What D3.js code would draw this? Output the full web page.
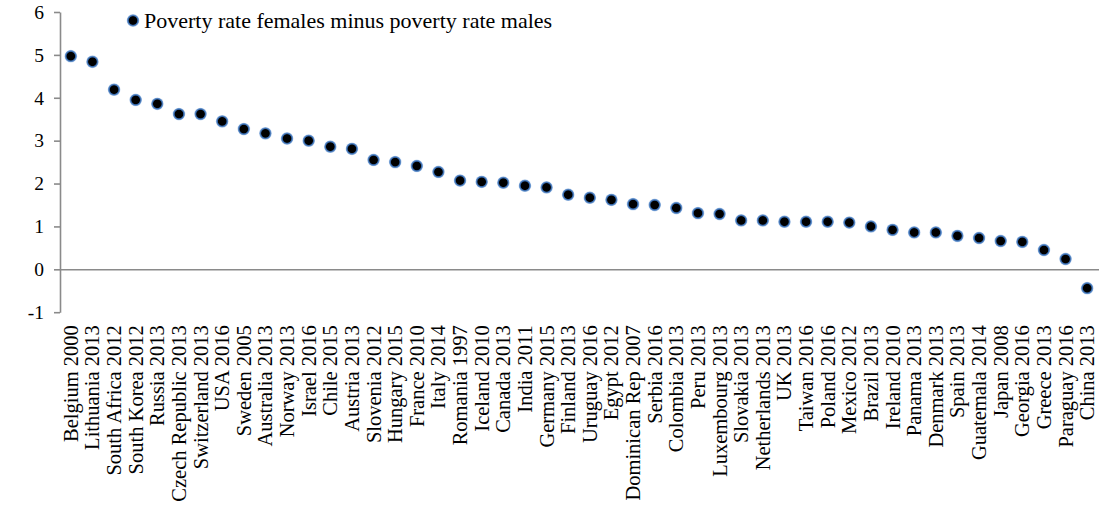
<!DOCTYPE html>
<html>
<head>
<meta charset="utf-8">
<script src="https://cdn.jsdelivr.net/npm/d3@7"></script>
<style>
  html, body { margin: 0; padding: 0; background: #fff; }
  svg { display: block; }
  text { font-family: "Liberation Serif", "Times New Roman", serif; fill: #000; }
</style>
</head>
<body>
<svg id="chart" width="1099" height="507"></svg>
<script>
const categories = [
  "Belgium 2000", "Lithuania 2013", "South Africa 2012", "South Korea 2012", "Russia 2013",
  "Czech Republic 2013", "Switzerland 2013", "USA 2016", "Sweden 2005", "Australia 2013",
  "Norway 2013", "Israel 2016", "Chile 2015", "Austria 2013", "Slovenia 2012",
  "Hungary 2015", "France 2010", "Italy 2014", "Romania 1997", "Iceland 2010",
  "Canada 2013", "India 2011", "Germany 2015", "Finland 2013", "Uruguay 2016",
  "Egypt 2012", "Dominican Rep 2007", "Serbia 2016", "Colombia 2013", "Peru 2013",
  "Luxembourg 2013", "Slovakia 2013", "Netherlands 2013", "UK 2013", "Taiwan 2016",
  "Poland 2016", "Mexico 2012", "Brazil 2013", "Ireland 2010", "Panama 2013",
  "Denmark 2013", "Spain 2013", "Guatemala 2014", "Japan 2008", "Georgia 2016",
  "Greece 2013", "Paraguay 2016", "China 2013"
];
const values = [
  4.97, 4.84, 4.19, 3.95, 3.86,
  3.62, 3.62, 3.45, 3.27, 3.17,
  3.05, 3.00, 2.86, 2.81, 2.55,
  2.50, 2.41, 2.27, 2.07, 2.04,
  2.02, 1.95, 1.91, 1.74, 1.67,
  1.62, 1.52, 1.50, 1.43, 1.31,
  1.29, 1.14, 1.14, 1.11, 1.11,
  1.11, 1.09, 1.00, 0.92, 0.86,
  0.86, 0.78, 0.73, 0.66, 0.64,
  0.45, 0.24, -0.44
];
const yTicks = [-1, 0, 1, 2, 3, 4, 5, 6];
const seriesName = "Poverty rate females minus poverty rate males";

const data = categories.map((c, i) => ({ c, v: values[i] }));

const svg = d3.select("#chart");
const axisColor = "#8a8a8a";
const serif = "'Liberation Serif', 'Times New Roman', serif";

const x = d3.scaleBand().domain(categories).range([60, 1098]);
const y = d3.scaleLinear().domain([-1, 6]).range([312.2, 12]);

// Y axis
const yAxis = svg.append("g")
  .attr("transform", "translate(60,0)")
  .call(d3.axisLeft(y).tickValues(yTicks).tickSize(6).tickSizeOuter(0).tickPadding(10)
    .tickFormat(d => d < 0 ? "-" + Math.abs(d) : d));
yAxis.select(".domain").attr("stroke", axisColor).attr("stroke-width", 1.6);
yAxis.selectAll(".tick line").attr("stroke", axisColor).attr("stroke-width", 1.6);
yAxis.selectAll(".tick text")
  .style("font-family", serif)
  .style("font-size", "19.5px")
  .attr("fill", "#000");

// Horizontal zero line (category axis line)
const xLine = svg.append("g")
  .attr("transform", `translate(0,${y(0)})`)
  .call(d3.axisBottom(x.copy().range([60, 1100])).tickValues([]).tickSizeOuter(0));
xLine.select(".domain").attr("stroke", axisColor).attr("stroke-width", 1.6);

// Category labels at the bottom of the plot
const xLab = svg.append("g")
  .attr("transform", `translate(0,${y(-1)})`)
  .call(d3.axisBottom(x).tickSize(0).tickSizeOuter(0));
xLab.select(".domain").remove();
xLab.selectAll(".tick text")
  .style("font-family", serif)
  .style("font-size", "20.5px")
  .attr("fill", "#000")
  .attr("text-anchor", "end")
  .attr("transform", "rotate(-90)")
  .attr("x", -13)
  .attr("y", 0)
  .attr("dy", "0.34em");

// Markers
const defs = svg.append("defs");
const grad = defs.append("radialGradient").attr("id", "halo");
grad.append("stop").attr("offset", "0%").attr("stop-color", "#000");
grad.append("stop").attr("offset", "60%").attr("stop-color", "#000");
grad.append("stop").attr("offset", "72%").attr("stop-color", "#2f5f9f");
grad.append("stop").attr("offset", "88%").attr("stop-color", "#6a97d0");
grad.append("stop").attr("offset", "100%").attr("stop-color", "#cbdcf0");

svg.append("g").selectAll("circle")
  .data(data)
  .join("circle")
  .attr("cx", d => x(d.c) + x.bandwidth() / 2)
  .attr("cy", d => y(d.v))
  .attr("r", 6.4)
  .attr("fill", "url(#halo)");

// Legend
const leg = svg.append("g");
leg.append("circle").attr("cx", 133).attr("cy", 20.5).attr("r", 6.4).attr("fill", "url(#halo)");
leg.append("text")
  .attr("x", 144)
  .attr("y", 28)
  .style("font-family", serif)
  .style("font-size", "22px")
  .text(seriesName);
</script>
</body>
</html>
